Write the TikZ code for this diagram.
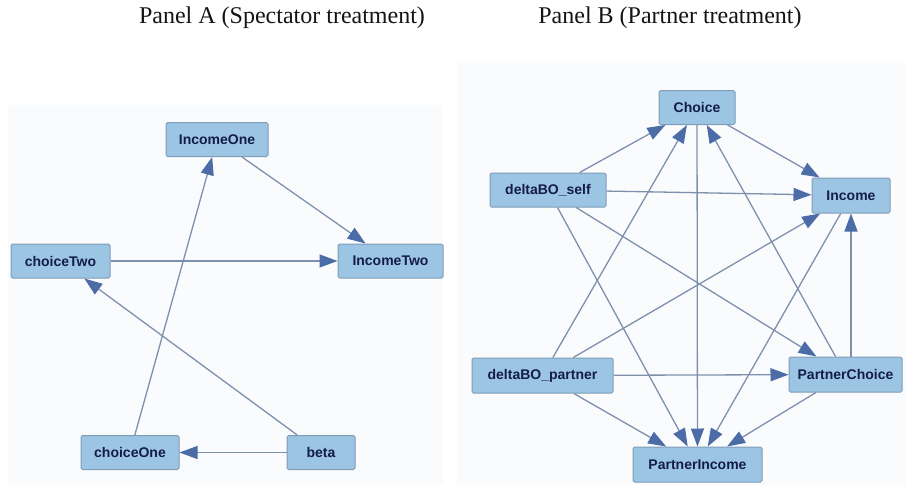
\documentclass[tikz,border=0pt]{standalone}
\usepackage{fontspec}
\setmainfont{Liberation Serif}
\newfontfamily\nodefont{Liberation Sans}
\usetikzlibrary{arrows.meta}
\definecolor{boxfill}{HTML}{9CC5E3}
\definecolor{boxdraw}{HTML}{7F9CB8}
\definecolor{boxtext}{HTML}{141C48}
\definecolor{edgeline}{HTML}{7E90AE}
\definecolor{arrowfill}{HTML}{4B6CA6}
\definecolor{panelbg}{HTML}{FAFBFD}
\begin{document}
\begin{tikzpicture}[x=1pt,y=-1pt,
  var/.style={draw=boxdraw, fill=boxfill, rounded corners=1.5pt, line width=1pt,
    minimum height=34pt, inner sep=0pt,
    font=\nodefont\fontsize{14}{16}\selectfont\bfseries, text=boxtext},
  edge/.style={draw=edgeline, line width=1.3pt,
    -{Triangle[length=18pt,width=13pt,color=arrowfill,fill=arrowfill]}},
  paneltitle/.style={font=\fontsize{24}{28}\selectfont, text=black!92, anchor=base, inner sep=0pt}]
\useasboundingbox (0,0) rectangle (906,485);
\fill[white] (0,0) rectangle (906,485);
% panel backgrounds
\fill[panelbg] (8,105) rectangle (443,485);
\fill[panelbg] (457,63) rectangle (906,485);
% titles
\node[paneltitle] (tA) at (282,23) {Panel A (Spectator treatment)};
\node[paneltitle] (tB) at (670,23) {Panel B (Partner treatment)};
% Panel A nodes
\node[var, minimum width=102pt] (incomeOne) at (217,139.5) {IncomeOne};
\node[var, minimum width=99pt] (choiceTwo) at (60.5,261) {choiceTwo};
\node[var, minimum width=105pt] (incomeTwo) at (390.5,261) {IncomeTwo};
\node[var, minimum width=98pt] (choiceOne) at (130,452.5) {choiceOne};
\node[var, minimum width=68pt] (beta) at (321,452.5) {beta};
% Panel A edges
\draw[edge] (incomeOne) -- (incomeTwo);
\draw[edge] (choiceTwo) -- (incomeTwo);
\draw[edge] (beta) -- (choiceTwo);
\draw[edge] (choiceOne) -- (incomeOne);
\draw[edge] (beta) -- (choiceOne);
% Panel B nodes
\node[var, minimum width=76pt] (choice) at (697,107.5) {Choice};
\node[var, minimum width=116pt] (dself) at (548,190) {deltaBO\_self};
\node[var, minimum width=78pt, minimum height=35pt] (income) at (851,195.5) {Income};
\node[var, minimum width=141pt, minimum height=35pt] (dpartner) at (542.5,375.5) {deltaBO\_partner};
\node[var, minimum width=113pt, minimum height=35pt] (pchoice) at (845.5,374.5) {PartnerChoice};
\node[var, minimum width=129pt, minimum height=35pt] (pincome) at (697.5,464.5) {PartnerIncome};
% Panel B edges
\draw[edge] (dself) -- (choice);
\draw[edge] (choice) -- (income);
\draw[edge] (dself) -- (income);
\draw[edge] (dself) -- (pincome);
\draw[edge] (dself) -- (pchoice);
\draw[edge] (dpartner) -- (choice);
\draw[edge] (dpartner) -- (income);
\draw[edge] (dpartner) -- (pchoice);
\draw[edge] (dpartner) -- (pincome);
\draw[edge] (choice) -- (pincome);
\draw[edge] (pchoice) -- (choice);
\draw[edge] (pchoice.north -| income.south) -- (income.south);
\draw[edge] (pchoice) -- (pincome);
\draw[edge] (income) -- (pincome);
\end{tikzpicture}
\end{document}
